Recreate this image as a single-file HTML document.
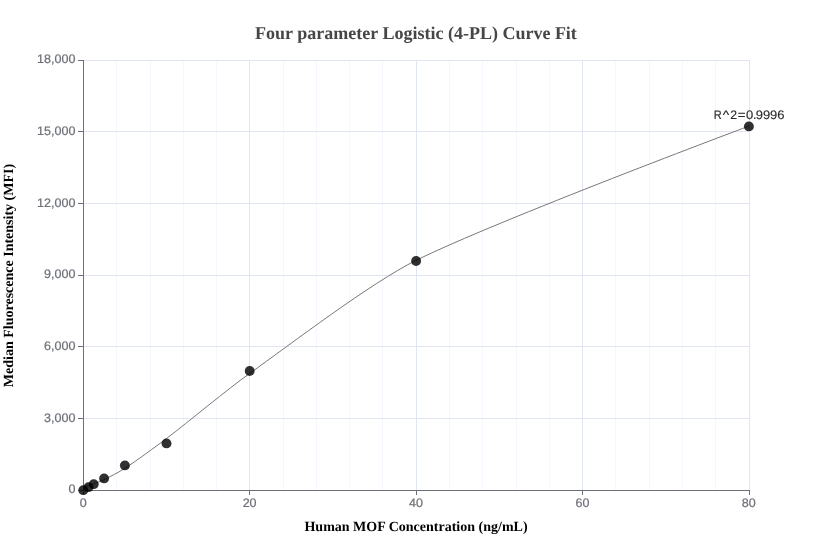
<!DOCTYPE html>
<html><head><meta charset="utf-8"><title>Four parameter Logistic (4-PL) Curve Fit</title>
<style>
html,body{margin:0;padding:0;background:#fff;}
body{width:832px;height:560px;overflow:hidden;position:relative;font-family:"Liberation Sans",sans-serif;}
svg{position:absolute;left:0;top:0;display:block;}
text{text-rendering:geometricPrecision;}
.t{font-family:"Liberation Serif",serif;font-weight:bold;}
.s{font-family:"Liberation Sans",sans-serif;font-size:12px;fill:#6E7079;stroke:#6E7079;stroke-width:0.22px;}
</style></head><body>
<svg width="832" height="560" viewBox="0 0 832 560" style="will-change:transform">
<rect width="832" height="560" fill="#ffffff"/>

<g stroke="#F4F7FD" stroke-width="1" shape-rendering="crispEdges">
<line x1="116.5" y1="60" x2="116.5" y2="490"/>
<line x1="150.5" y1="60" x2="150.5" y2="490"/>
<line x1="183.5" y1="60" x2="183.5" y2="490"/>
<line x1="216.5" y1="60" x2="216.5" y2="490"/>
<line x1="283.5" y1="60" x2="283.5" y2="490"/>
<line x1="316.5" y1="60" x2="316.5" y2="490"/>
<line x1="349.5" y1="60" x2="349.5" y2="490"/>
<line x1="382.5" y1="60" x2="382.5" y2="490"/>
<line x1="449.5" y1="60" x2="449.5" y2="490"/>
<line x1="482.5" y1="60" x2="482.5" y2="490"/>
<line x1="516.5" y1="60" x2="516.5" y2="490"/>
<line x1="549.5" y1="60" x2="549.5" y2="490"/>
<line x1="615.5" y1="60" x2="615.5" y2="490"/>
<line x1="649.5" y1="60" x2="649.5" y2="490"/>
<line x1="682.5" y1="60" x2="682.5" y2="490"/>
<line x1="715.5" y1="60" x2="715.5" y2="490"/>
</g>
<g stroke="#E0E6F1" stroke-width="1" shape-rendering="crispEdges">
<line x1="249.5" y1="60" x2="249.5" y2="490"/>
<line x1="416.5" y1="60" x2="416.5" y2="490"/>
<line x1="582.5" y1="60" x2="582.5" y2="490"/>
<line x1="749.5" y1="60" x2="749.5" y2="490"/>
<line x1="83" y1="418.5" x2="750" y2="418.5"/>
<line x1="83" y1="346.5" x2="750" y2="346.5"/>
<line x1="83" y1="275.5" x2="750" y2="275.5"/>
<line x1="83" y1="203.5" x2="750" y2="203.5"/>
<line x1="83" y1="131.5" x2="750" y2="131.5"/>
<line x1="83" y1="60.5" x2="750" y2="60.5"/>
</g>
<g stroke="#6E7079" stroke-width="1" shape-rendering="crispEdges">
<line x1="83.5" y1="60" x2="83.5" y2="491"/>
<line x1="83" y1="490.5" x2="750" y2="490.5"/>
<line x1="78" y1="490.5" x2="83" y2="490.5"/>
<line x1="78" y1="418.5" x2="83" y2="418.5"/>
<line x1="78" y1="346.5" x2="83" y2="346.5"/>
<line x1="78" y1="275.5" x2="83" y2="275.5"/>
<line x1="78" y1="203.5" x2="83" y2="203.5"/>
<line x1="78" y1="131.5" x2="83" y2="131.5"/>
<line x1="78" y1="60.5" x2="83" y2="60.5"/>
<line x1="83.5" y1="490" x2="83.5" y2="495"/>
<line x1="249.5" y1="490" x2="249.5" y2="495"/>
<line x1="416.5" y1="490" x2="416.5" y2="495"/>
<line x1="582.5" y1="490" x2="582.5" y2="495"/>
<line x1="749.5" y1="490" x2="749.5" y2="495"/>
</g>
<g>
<g class="s" text-anchor="end">
<text transform="translate(75.45,493.45) scale(1.045,1.03)">0</text>
<text transform="translate(75.45,421.78) scale(1.045,1.03)">3,000</text>
<text transform="translate(75.45,350.12) scale(1.045,1.03)">6,000</text>
<text transform="translate(75.45,278.45) scale(1.045,1.03)">9,000</text>
<text transform="translate(75.45,206.78) scale(1.045,1.03)">12,000</text>
<text transform="translate(75.45,135.12) scale(1.045,1.03)">15,000</text>
<text transform="translate(75.45,63.45) scale(1.045,1.03)">18,000</text>
</g>
<g class="s" text-anchor="middle">
<text transform="translate(83.20,507.1) scale(1.045,1.03)">0</text>
<text transform="translate(249.60,507.1) scale(1.045,1.03)">20</text>
<text transform="translate(416.00,507.1) scale(1.045,1.03)">40</text>
<text transform="translate(582.40,507.1) scale(1.045,1.03)">60</text>
<text transform="translate(748.80,507.1) scale(1.045,1.03)">80</text>
</g>
</g>
<path d="M83.20,486.47 C83.20,486.47 87.12,485.82 88.40,485.50 C89.72,485.17 92.32,484.33 93.60,483.86 C96.22,482.89 101.50,480.98 104.00,479.75 C109.30,477.12 119.86,471.67 124.80,468.41 C135.46,461.39 156.22,446.36 166.40,438.62 C187.42,422.62 228.11,388.80 249.60,373.46 C290.51,344.25 371.17,282.63 416.00,260.42 C495.97,220.80 748.80,126.14 748.80,126.14" fill="none" stroke="#787878" stroke-width="1"/>
<g fill="#000" fill-opacity="0.81">
<circle cx="83.30" cy="490.15" r="4.95"/>
<circle cx="88.50" cy="487.16" r="4.95"/>
<circle cx="93.70" cy="484.15" r="4.95"/>
<circle cx="104.10" cy="478.41" r="4.95"/>
<circle cx="124.90" cy="465.41" r="4.95"/>
<circle cx="166.50" cy="443.41" r="4.95"/>
<circle cx="249.70" cy="371.06" r="4.95"/>
<circle cx="416.10" cy="261.00" r="4.95"/>
<circle cx="748.90" cy="126.41" r="4.95"/>
</g>
<g>
<g style="font-family:'Liberation Sans',sans-serif;font-size:12px;fill:#2b2b2b;stroke:#2b2b2b;stroke-width:0.15px">
<text transform="translate(714.70,118.7) scale(0.912,1.03)" x="-0.984" y="0">R</text>
<text transform="translate(722.80,118.7) scale(1.143,1.03)" x="-0.059" y="0">^</text>
<text transform="translate(730.80,118.7) scale(1.024,1.03)" x="-0.604" y="0">2</text>
<text transform="translate(738.50,118.7) scale(1.115,1.03)" x="-0.586" y="0">=</text>
<text transform="translate(746.50,118.7) scale(1.081,1.03)" x="-0.469" y="0">0</text>
<text transform="translate(754.05,118.7) scale(1.050,1.03)" x="-1.096" y="0">.</text>
<text transform="translate(756.30,118.7) scale(1.082,1.03)" x="-0.562" y="0">9</text>
<text transform="translate(763.50,118.7) scale(1.082,1.03)" x="-0.562" y="0">9</text>
<text transform="translate(770.70,118.7) scale(1.082,1.03)" x="-0.562" y="0">9</text>
<text transform="translate(777.90,118.7) scale(1.084,1.03)" x="-0.609" y="0">6</text>
</g>
<text class="t" x="416" y="38.5" text-anchor="middle" font-size="18" fill="#464646">Four parameter Logistic (4-PL) Curve Fit</text>
<text class="t" x="416" y="530.7" text-anchor="middle" font-size="14" fill="#000">Human MOF Concentration (ng/mL)</text>
<text class="t" transform="translate(13,275.5) rotate(-90)" text-anchor="middle" font-size="14" fill="#000">Median Fluorescence Intensity (MFI)</text>
</g>
</svg></body></html>
